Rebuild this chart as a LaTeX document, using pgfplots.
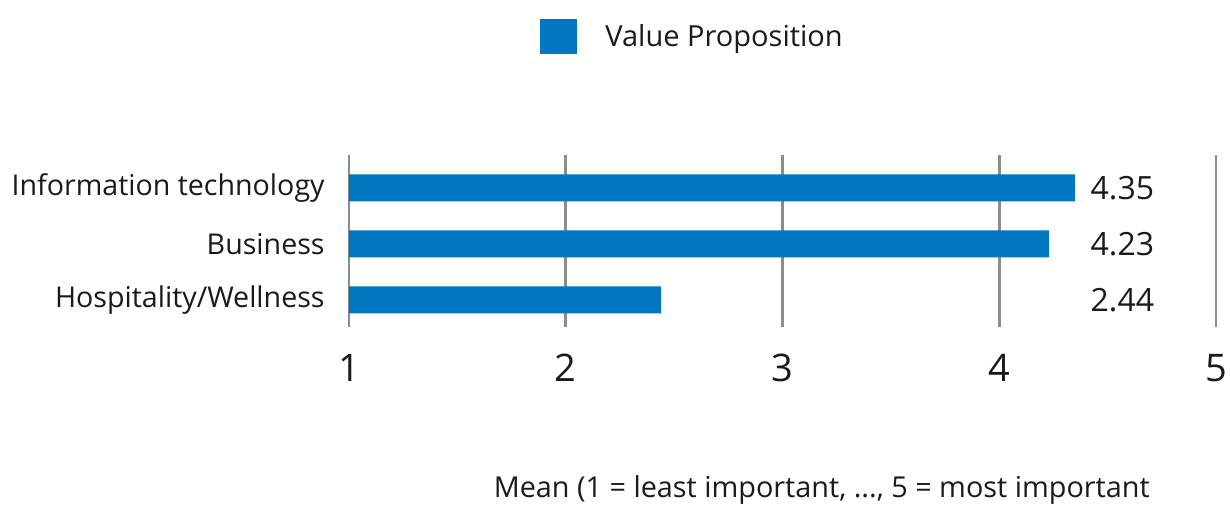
\documentclass[border=0pt]{standalone}
\usepackage{fontspec}
\setmainfont{Open Sans}
\usepackage{pgfplots}
\pgfplotsset{compat=1.18}
\usepackage{pgfplotstable}
\definecolor{barblue}{RGB}{0,119,192}
\definecolor{gridgray}{RGB}{140,140,140}
\definecolor{txt}{RGB}{26,26,26}

% position (top to bottom: 2,1,0) and mean score
\pgfplotstableread{
pos value
2 4.35
1 4.23
0 2.44
}\scores

\begin{document}
\begin{tikzpicture}
\begin{axis}[
  at={(0pt,0pt)}, anchor=south west,
  scale only axis, width=433.5pt, height=86pt,
  xmin=1, xmax=5, ymin=-0.482, ymax=2.589,
  axis line style={draw=none},
  xtick={1,2,3,4,5}, ytick={0,1,2},
  yticklabels={Hospitality/Wellness, Business, Information technology},
  major tick length=0pt,
  xmajorgrids, major x grid style={gridgray, line width=1.4pt},
  /pgf/number format/assume math mode=true,
  xticklabel style={font=\fontsize{19}{19}\selectfont, text=txt, anchor=base, yshift=-27.5pt},
  yticklabel style={font=\fontsize{14.3}{14.3}\selectfont, text=txt, anchor=east, inner sep=0pt, xshift=-12pt},
  xlabel={Mean (1 = least important, ..., 5 = most important},
  xlabel style={at={(axis description cs:0.924,-0.948)}, anchor=east, inner sep=0pt,
    font=\fontsize{14.4}{14.4}\selectfont, text=txt},
  legend style={at={(axis description cs:0.2203,1.686)}, anchor=west, draw=none,
    inner sep=0pt, font=\fontsize{14.5}{14.5}\selectfont, text=txt,
    nodes={inner sep=0pt}},
  legend image code/.code={\fill[barblue] (0pt,-8.75pt) rectangle (18.5pt,8.75pt);
    \path (32.5pt,0pt);},
]
\addplot[xbar, bar width=13.5pt, fill=barblue, draw=none] table[x=value, y=pos] {\scores};
\addlegendentry{Value Proposition}
% value labels in a fixed column to the right of the bars
\addplot[forget plot, draw=none, mark=none, nodes near coords, point meta=explicit,
  nodes near coords style={anchor=west, inner sep=0pt, text=txt,
    font=\fontsize{16}{16}\selectfont,
    /pgf/number format/.cd, fixed, precision=2, fixed zerofill}]
  table[x expr=4.42, y=pos, meta=value] {\scores};
\end{axis}
\pgfresetboundingbox
\useasboundingbox (-174.5pt,-89.5pt) rectangle (440.5pt,163.5pt);
\end{tikzpicture}
\end{document}
